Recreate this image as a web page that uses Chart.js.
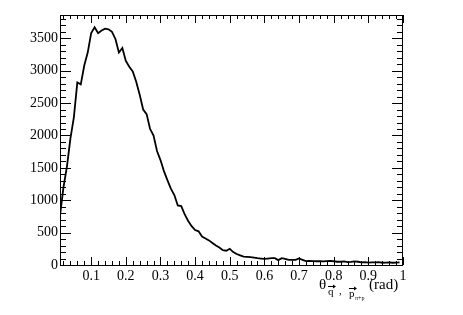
<!DOCTYPE html>
<html>
<head>
<meta charset="utf-8">
<script src="https://cdn.jsdelivr.net/npm/chart.js@4/dist/chart.umd.min.js"></script>
<style>
  body { margin: 0; background: #fff; }
  #c { display: block; }
</style>
</head>
<body>
<canvas id="c" width="463" height="315"></canvas>
<script>
// histogram: 99 bins, first bin at 0.01, width 0.01
var binStart = 0.01;
var binWidth = 0.01;
var counts = [
  760, 1200, 1520, 1950, 2280, 2820, 2790, 3080, 3280, 3580,
  3670, 3580, 3620, 3650, 3640, 3600, 3490, 3280, 3350, 3150,
  3060, 2990, 2830, 2630, 2400, 2330, 2100, 2000, 1760, 1620,
  1450, 1310, 1180, 1080, 920, 910, 780, 680, 600, 540,
  520, 440, 410, 380, 340, 300, 270, 230, 220, 250,
  200, 170, 150, 130, 125, 120, 115, 105, 100, 95,
  100, 105, 105, 75, 105, 95, 80, 80, 80, 100,
  80, 60, 62, 60, 58, 58, 55, 60, 65, 58,
  50, 50, 55, 45, 48, 55, 50, 42, 45, 38,
  40, 40, 45, 35, 38, 40, 35, 38, 42
];
var xTicks = [0.1, 0.2, 0.3, 0.4, 0.5, 0.6, 0.7, 0.8, 0.9, 1];
var yTicks = [0, 500, 1000, 1500, 2000, 2500, 3000, 3500];
var xMinor = 0.02, yMinor = 100;
var xMin = 0.01, xMax = 1, yMin = 0, yMax = 3860;

var pts = counts.map(function (v, i) {
  return { x: binStart + i * binWidth, y: v };
});

var serif = 'Liberation Serif';

// ROOT-like frame with inner ticks on all four sides + axis title
var frame = {
  id: 'frame',
  afterDraw: function (chart) {
    var c = chart.ctx, a = chart.chartArea;
    var xs = chart.scales.x, ys = chart.scales.y;
    c.save();
    c.strokeStyle = '#000';
    c.lineWidth = 1;
    c.strokeRect(a.left + 0.5, a.top + 0.5, a.right - a.left - 1, a.bottom - a.top);
    c.beginPath();
    var v, p, len;
    for (v = 0; v <= yMax + 1e-9; v += yMinor) {
      p = Math.round(ys.getPixelForValue(v)) + 0.5;
      len = (Math.round(v) % 500 === 0) ? 11 : 6;
      c.moveTo(a.left, p); c.lineTo(a.left + len, p);
      c.moveTo(a.right, p); c.lineTo(a.right - len, p);
    }
    for (v = xMinor; v <= xMax + 1e-9; v += xMinor) {
      p = Math.round(xs.getPixelForValue(v)) + 0.5;
      len = (Math.round(v * 100) % 10 === 0) ? 8 : 4;
      c.moveTo(p, a.bottom); c.lineTo(p, a.bottom - len);
      c.moveTo(p, a.top); c.lineTo(p, a.top + len);
    }
    c.stroke();

    // axis title: theta_{q->, p->_{pi+p}} (rad)
    c.fillStyle = '#000';
    c.textBaseline = 'alphabetic';
    c.font = '15px ' + serif;
    c.fillText('θ', 319, 289);
    c.font = '11px ' + serif;
    c.fillText('q', 328, 295);
    c.fillText(',', 339, 294);
    c.fillText('p', 349, 297);
    c.font = '6px ' + serif;
    c.fillText('π+p', 355, 300);
    // vector arrows
    c.lineWidth = 1;
    c.beginPath();
    c.moveTo(328, 286.5); c.lineTo(334, 286.5);
    c.moveTo(349, 288.5); c.lineTo(355, 288.5);
    c.stroke();
    c.beginPath();
    c.moveTo(336, 286.5); c.lineTo(333, 284.5); c.lineTo(333, 288.5); c.closePath();
    c.moveTo(357, 288.5); c.lineTo(354, 286.5); c.lineTo(354, 290.5); c.closePath();
    c.fill();
    c.font = '15px ' + serif;
    c.fillText('(rad)', 369, 289);
    c.restore();
  }
};

new Chart(document.getElementById('c'), {
  type: 'line',
  data: {
    datasets: [{
      data: pts,
      borderColor: '#000',
      borderWidth: 1.8,
      pointRadius: 0,
      tension: 0,
      fill: false
    }]
  },
  options: {
    responsive: false,
    animation: false,
    layout: { padding: { left: 0, top: 15, right: 60, bottom: 0 } },
    plugins: { legend: { display: false }, tooltip: { enabled: false } },
    scales: {
      x: {
        type: 'linear', min: xMin, max: xMax,
        grid: { display: false, drawTicks: false, tickLength: 0 }, border: { display: false },
        afterFit: function (s) { s.height = 50; },
        afterBuildTicks: function (s) { s.ticks = xTicks.map(function (v) { return { value: v }; }); },
        ticks: {
          color: '#000', padding: 3, maxRotation: 0, autoSkip: false,
          font: { family: serif, size: 14 },
          callback: function (v) { return String(+v.toFixed(2)); }
        }
      },
      y: {
        min: yMin, max: yMax,
        grid: { display: false, drawTicks: false, tickLength: 0 }, border: { display: false },
        afterFit: function (s) { s.width = 60; },
        afterBuildTicks: function (s) { s.ticks = yTicks.map(function (v) { return { value: v }; }); },
        ticks: {
          color: '#000', padding: 2, autoSkip: false,
          font: { family: serif, size: 14 },
          callback: function (v) { return String(v); }
        }
      }
    }
  },
  plugins: [frame]
});
</script>
</body>
</html>
